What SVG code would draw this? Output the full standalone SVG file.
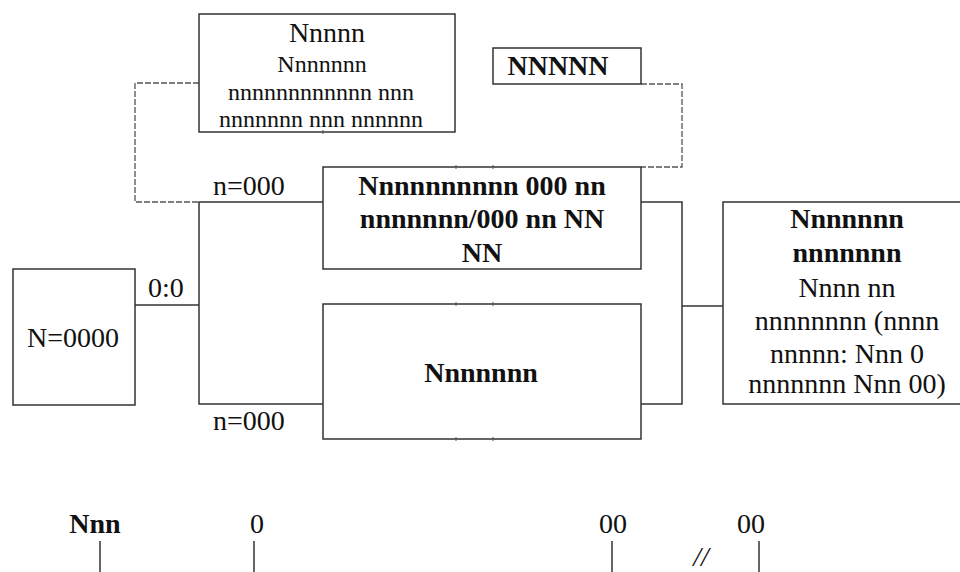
<svg xmlns="http://www.w3.org/2000/svg" width="960" height="572" viewBox="0 0 960 572">
  <style>
    .box { fill: #ffffff; stroke: #333333; stroke-width: 1.5; }
    .wire { fill: none; stroke: #333333; stroke-width: 1.5; }
    .dash { fill: none; stroke: #555555; stroke-width: 1.3; stroke-dasharray: 6 2; }
    .tick { stroke: #555555; stroke-width: 1; }
    text { font-family: "Liberation Serif", "Times New Roman", serif; fill: #111111; }
    .t28 { font-size: 28px; }
    .t24 { font-size: 24px; }
    .b { font-weight: bold; }
    .mid { text-anchor: middle; }
  </style>

  <!-- connectors -->
  <g id="connectors">
    <!-- dashed links to the note boxes -->
    <polyline class="dash" points="199,83 135,83 135,202 199,202"/>
    <polyline class="dash" points="641,84 682,84 682,167 641,167"/>
    <!-- source feed and split -->
    <line class="wire" x1="135" y1="305" x2="199" y2="305"/>
    <polyline class="wire" points="323,202 199,202 199,404 323,404"/>
    <!-- merge into output -->
    <polyline class="wire" points="641,202 682,202 682,404 641,404"/>
    <line class="wire" x1="682" y1="306" x2="723" y2="306"/>
    <!-- scale markers -->
    <line class="wire" x1="100" y1="541" x2="100" y2="572" stroke-width="1.2"/>
    <line class="wire" x1="254" y1="541" x2="254" y2="572" stroke-width="1.2"/>
    <line class="wire" x1="612" y1="541" x2="612" y2="572" stroke-width="1.2"/>
    <line class="wire" x1="759" y1="541" x2="759" y2="572" stroke-width="1.2"/>
  </g>

  <!-- note box -->
  <g id="note">
    <rect class="box" x="199" y="14" width="256" height="118"/>
    <line class="tick" x1="323" y1="130" x2="323" y2="134"/>
    <text class="t28 mid" x="327" y="42">Nnnnn</text>
    <text class="t24 mid" x="322" y="72">Nnnnnnn</text>
    <text class="t24 mid" x="321" y="100">nnnnnnnnnnnn nnn</text>
    <text class="t24 mid" x="321" y="127">nnnnnnn nnn nnnnnn</text>
  </g>

  <!-- label box -->
  <g id="tag">
    <rect class="box" x="493" y="48" width="148" height="36"/>
    <text class="t28 b mid" x="558" y="75">NNNNN</text>
  </g>

  <!-- source -->
  <g id="source">
    <rect class="box" x="13" y="269" width="122" height="136"/>
    <text class="t28 mid" x="73" y="347">N=0000</text>
  </g>

  <!-- upper branch -->
  <g id="branch-upper">
    <rect class="box" x="323" y="167" width="318" height="102"/>
    <line class="tick" x1="456" y1="165" x2="456" y2="169"/>
    <line class="tick" x1="493" y1="165" x2="493" y2="169"/>
    <text class="t28 b mid" x="482" y="195">Nnnnnnnnnn 000 nn</text>
    <text class="t28 b mid" x="482" y="228">nnnnnnn/000 nn NN</text>
    <text class="t28 b mid" x="482" y="262">NN</text>
  </g>

  <!-- lower branch -->
  <g id="branch-lower">
    <rect class="box" x="323" y="304" width="318" height="135"/>
    <line class="tick" x1="456" y1="302" x2="456" y2="306"/>
    <line class="tick" x1="493" y1="302" x2="493" y2="306"/>
    <line class="tick" x1="456" y1="437" x2="456" y2="441"/>
    <line class="tick" x1="493" y1="437" x2="493" y2="441"/>
    <text class="t28 b mid" x="481" y="382">Nnnnnnn</text>
  </g>

  <!-- output -->
  <g id="output">
    <polyline class="box" points="962,202 723,202 723,404 962,404"/>
    <text class="t28 b mid" x="847" y="228">Nnnnnnn</text>
    <text class="t28 b mid" x="847" y="262">nnnnnnn</text>
    <text class="t28 mid" x="847" y="297">Nnnn nn</text>
    <text class="t28 mid" x="847" y="330">nnnnnnnn (nnnn</text>
    <text class="t28 mid" x="847" y="363">nnnnn: Nnn 0</text>
    <text class="t28 mid" x="847" y="393">nnnnnnn Nnn 00)</text>
  </g>

  <!-- connector labels -->
  <g id="labels">
    <text class="t28" x="148" y="297">0:0</text>
    <text class="t28" x="213" y="195">n=000</text>
    <text class="t28" x="213" y="430">n=000</text>
  </g>

  <!-- scale -->
  <g id="scale">
    <text class="t28 b mid" x="95" y="533">Nnn</text>
    <text class="t28 mid" x="257" y="533">0</text>
    <text class="t28 mid" x="613" y="533">00</text>
    <text class="t28 mid" x="751" y="533">00</text>
    <text x="701" y="566" font-size="28" font-style="italic" text-anchor="middle">//</text>
  </g>
</svg>
